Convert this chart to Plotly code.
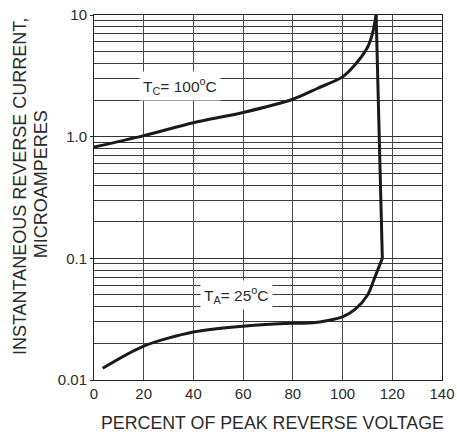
import plotly.graph_objects as go
import numpy as np

# Data
# T_C = 100 C curve (percent of peak reverse voltage, microamperes)
hot_x = [0, 20, 40, 60, 80, 90, 100, 105, 110, 112, 113.5]
hot_y = [0.82, 1.02, 1.3, 1.58, 2.03, 2.5, 3.1, 3.9, 5.4, 7.0, 10.0]

# steep drop at breakdown
drop_x = [113.5, 116]
drop_y = [10.0, 0.1]

# T_A = 25 C curve
cold_x = [3.5, 20, 40, 60, 80, 88, 100, 105, 110, 113, 116]
cold_y = [0.0125, 0.019, 0.0248, 0.0277, 0.0293, 0.0295, 0.033, 0.038, 0.0497, 0.07, 0.1]

x_ticks = [0, 20, 40, 60, 80, 100, 120, 140]
y_ticks = [0.01, 0.1, 1, 10]
y_ticktext = ["0.01", "0.1", "1.0", "10"]
y_minor = [m * d for d in [0.01, 0.1, 1] for m in range(2, 10)]

label_hot = "T<sub>C</sub>= 100<sup>o</sup>C"
label_cold = "T<sub>A</sub>= 25<sup>o</sup>C"
y_title_1 = "INSTANTANEOUS REVERSE CURRENT,"
y_title_2 = "MICROAMPERES"
x_title = "PERCENT OF PEAK REVERSE VOLTAGE"

FONT = "Liberation Sans, Arial, sans-serif"
TXT = "#2b2b2b"
LINE = "#1a1a1a"

fig = go.Figure()
fig.add_trace(go.Scatter(x=hot_x, y=hot_y, mode="lines",
                         line=dict(color=LINE, width=3, shape="spline", smoothing=0.8)))
fig.add_trace(go.Scatter(x=drop_x, y=drop_y, mode="lines",
                         line=dict(color=LINE, width=3)))
fig.add_trace(go.Scatter(x=cold_x, y=cold_y, mode="lines",
                         line=dict(color=LINE, width=3, shape="spline", smoothing=0.8)))

fig.add_annotation(x=34.6, y=np.log10(2.6), xref="x", yref="y", text=label_hot,
                   showarrow=False, bgcolor="white", borderpad=3,
                   font=dict(family=FONT, size=15.5, color=TXT))
fig.add_annotation(x=57.4, y=np.log10(0.05), xref="x", yref="y", text=label_cold,
                   showarrow=False, bgcolor="white", borderpad=3,
                   font=dict(family=FONT, size=15.5, color=TXT))

fig.add_annotation(x=(19.5 - 94) / 348, y=0.530, xref="paper", yref="paper", text=y_title_1,
                   textangle=-90, showarrow=False, xanchor="center", yanchor="middle",
                   font=dict(family=FONT, size=18, color=TXT))
fig.add_annotation(x=(41 - 94) / 348, y=0.536, xref="paper", yref="paper", text=y_title_2,
                   textangle=-90, showarrow=False, xanchor="center", yanchor="middle",
                   font=dict(family=FONT, size=18, color=TXT))
fig.add_annotation(x=0.513, y=(380 - 423) / 365, xref="paper", yref="paper", text=x_title,
                   showarrow=False, xanchor="center", yanchor="middle",
                   font=dict(family=FONT, size=17.8, color=TXT))

fig.update_layout(
    width=457, height=437, autosize=False,
    margin=dict(l=94, r=15, t=15, b=57, autoexpand=False),
    paper_bgcolor="white", plot_bgcolor="white",
    showlegend=False,
    font=dict(family=FONT, color=TXT),
)
fig.update_xaxes(
    range=[0, 140], tickvals=x_ticks, ticks="", showgrid=True, automargin=False,
    gridcolor="#4a4a4a", gridwidth=1, zeroline=False,
    showline=True, linecolor="#222", linewidth=1, mirror=True,
    tickfont=dict(family=FONT, size=15, color=TXT),
)
fig.update_yaxes(
    type="log", range=[-2, 1], tickvals=y_ticks, ticktext=y_ticktext, automargin=False,
    ticks="outside", ticklen=3, tickcolor="#222",
    showgrid=True, gridcolor="#333", gridwidth=1, zeroline=False,
    showline=True, linecolor="#222", linewidth=1, mirror=True,
    minor=dict(tickvals=y_minor, showgrid=True, gridcolor="#3a3a3a", gridwidth=1, ticks=""),
    tickfont=dict(family=FONT, size=15, color=TXT),
)

fig.write_html(
    "out.html",
    config={"displayModeBar": False},
    post_script="document.documentElement.style.margin='0';"
                "document.body.style.margin='0';"
                "document.body.style.overflow='hidden';",
)
